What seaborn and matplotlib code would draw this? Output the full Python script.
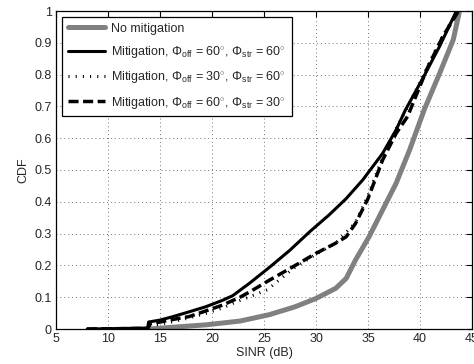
import matplotlib
matplotlib.use("Agg")
import matplotlib.pyplot as plt
import seaborn as sns
import pandas as pd

# ---- data ----
gray_x = [14, 16, 19.4, 22.7, 25.5, 28, 30, 31.9, 32.9, 33.8, 35.1, 36.4, 37.7, 39.0, 40.4, 41.9, 43.2, 43.8]
gray_y = [0.0, 0.005, 0.013, 0.025, 0.045, 0.07, 0.096, 0.128, 0.159, 0.217, 0.29, 0.374, 0.458, 0.563, 0.689, 0.805, 0.91, 1.0]

solid_x = [8, 13.85, 13.9, 15, 16.25, 17.8, 19.4, 21, 22, 23.65, 25.6, 27.5, 29.4, 31.3, 32.9, 34.5, 36.4, 37.7, 38.6, 40.3, 41.9, 43.5]
solid_y = [0, 0.003, 0.022, 0.028, 0.039, 0.054, 0.07, 0.09, 0.105, 0.145, 0.196, 0.248, 0.306, 0.36, 0.41, 0.469, 0.552, 0.626, 0.689, 0.79, 0.89, 1.0]

dotted_x = [8, 13.85, 13.9, 15, 16.25, 17.8, 19.4, 21, 22.4, 23.9, 25.3, 27.8, 30, 31.9, 33.8, 35.0, 36.4, 37.7, 39, 40.5, 42, 43.6]
dotted_y = [0, 0.002, 0.01, 0.015, 0.023, 0.035, 0.049, 0.066, 0.086, 0.105, 0.123, 0.19, 0.235, 0.27, 0.335, 0.42, 0.54, 0.63, 0.71, 0.81, 0.91, 1.0]

dashed_x = [8, 13.85, 13.9, 15, 16.25, 17.8, 19.5, 21, 22.7, 23.8, 25.6, 27.8, 30, 31.9, 32.9, 33.8, 35.0, 36.4, 37.7, 38.8, 40.7, 42.2, 43.7]
dashed_y = [0, 0.002, 0.015, 0.022, 0.03, 0.039, 0.058, 0.075, 0.10, 0.12, 0.155, 0.196, 0.238, 0.27, 0.29, 0.332, 0.41, 0.531, 0.615, 0.668, 0.82, 0.92, 1.0]

labels = [
    "No mitigation",
    r"Mitigation, $\Phi_{\mathrm{off}}$ = 60$^{\circ}$, $\Phi_{\mathrm{str}}$ = 60$^{\circ}$",
    r"Mitigation, $\Phi_{\mathrm{off}}$ = 30$^{\circ}$, $\Phi_{\mathrm{str}}$ = 60$^{\circ}$",
    r"Mitigation, $\Phi_{\mathrm{off}}$ = 60$^{\circ}$, $\Phi_{\mathrm{str}}$ = 30$^{\circ}$",
]
x_ticks = [5, 10, 15, 20, 25, 30, 35, 40, 45]
y_ticks = [0, 0.1, 0.2, 0.3, 0.4, 0.5, 0.6, 0.7, 0.8, 0.9, 1]

sns.set_theme(style="white")
plt.rcParams["font.family"] = ["Liberation Sans", "DejaVu Sans"]
plt.rcParams["mathtext.fontset"] = "custom"
plt.rcParams["mathtext.rm"] = "Liberation Sans"
plt.rcParams["mathtext.it"] = "Liberation Sans:italic"
plt.rcParams["mathtext.bf"] = "Liberation Sans:bold"
plt.rcParams["mathtext.sf"] = "Liberation Sans"

fig = plt.figure(figsize=(4.74, 3.64), dpi=100)
ax = fig.add_axes([56 / 474, 35 / 364, 416 / 474, 318 / 364])

series = [
    (gray_x, gray_y, dict(color="#808080", linewidth=3.6, linestyle="-")),
    (solid_x, solid_y, dict(color="black", linewidth=2.2, linestyle="-")),
    (dotted_x, dotted_y, dict(color="black", linewidth=2.2, dashes=(0.35, 2.0))),
    (dashed_x, dashed_y, dict(color="black", linewidth=2.5, dashes=(2.9, 1.3))),
]
for (xs, ys, style), lab in zip(series, labels):
    df = pd.DataFrame({"SINR": xs, "CDF": ys})
    kw = dict(style)
    dashes = kw.pop("dashes", None)
    line = sns.lineplot(data=df, x="SINR", y="CDF", ax=ax, sort=False,
                        estimator=None, label=lab, **kw)
    if dashes is not None:
        ax.lines[-1].set_dashes(dashes)
        ax.lines[-1].set_dash_capstyle("butt")

ax.set_xlim(5, 45)
ax.set_ylim(0, 1)
ax.set_xticks(x_ticks)
ax.set_yticks(y_ticks)
ax.set_xticklabels([str(t) for t in x_ticks])
ax.set_yticklabels(["0", "0.1", "0.2", "0.3", "0.4", "0.5", "0.6", "0.7", "0.8", "0.9", "1"])
ax.set_xlabel("SINR (dB)", fontsize=9, labelpad=1)
ax.set_ylabel("CDF", fontsize=9, labelpad=4)
ax.tick_params(axis="both", direction="in", length=4, width=0.8, labelsize=9,
               top=True, right=True, color="black", pad=3)
ax.grid(True, linestyle=(0, (1, 3)), color="0.45", linewidth=0.7)
for sp in ax.spines.values():
    sp.set_color("black")
    sp.set_linewidth(0.9)

leg = ax.legend(loc="upper left", bbox_to_anchor=(6 / 416, 312 / 318), borderaxespad=0,
                fontsize=9, frameon=True, fancybox=False, framealpha=1,
                edgecolor="black", handlelength=3.0, labelspacing=0.75,
                handletextpad=0.5, borderpad=0.45)
leg.get_frame().set_linewidth(0.9)

fig.savefig("out.png", dpi=100)
